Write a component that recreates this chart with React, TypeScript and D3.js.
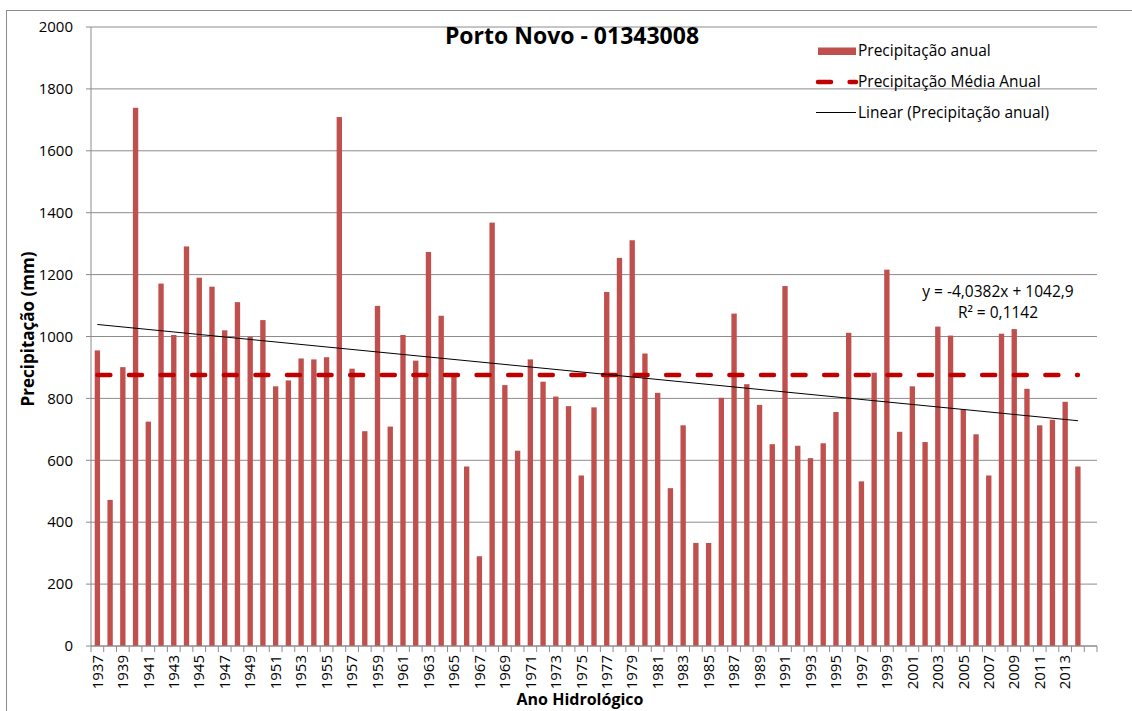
import React from "react";
import * as d3 from "d3";

// Ano hidrológico (the last slot stays empty, as in the original axis)
const years = [
  "1937", "1938", "1939", "1940", "1941", "1942", "1943", "1944", "1945", "1946",
  "1947", "1948", "1949", "1950", "1951", "1952", "1953", "1954", "1955", "1956",
  "1957", "1958", "1959", "1960", "1961", "1962", "1963", "1964", "1965", "1966",
  "1967", "1968", "1969", "1970", "1971", "1972", "1973", "1974", "1975", "1976",
  "1977", "1978", "1979", "1980", "1981", "1982", "1983", "1984", "1985", "1986",
  "1987", "1988", "1989", "1990", "1991", "1992", "1993", "1994", "1995", "1996",
  "1997", "1998", "1999", "2000", "2001", "2002", "2003", "2004", "2005", "2006",
  "2007", "2008", "2009", "2010", "2011", "2012", "2013", "2014", "2015",
];

// Precipitação anual (mm), 1937..2014
const precipitation = [
  955, 472, 901, 1739, 725, 1171, 1005, 1291, 1190, 1161,
  1020, 1111, 999, 1053, 839, 858, 929, 926, 933, 1709,
  896, 694, 1099, 709, 1005, 922, 1273, 1067, 872, 580,
  290, 1368, 843, 631, 926, 854, 806, 775, 551, 771,
  1144, 1254, 1311, 945, 818, 510, 713, 333, 333, 802,
  1074, 846, 779, 652, 1163, 647, 607, 655, 756, 1012,
  532, 883, 1216, 692, 839, 659, 1032, 1003, 765, 684,
  551, 1009, 1024, 831, 713, 731, 789, 580,
];

const meanPrecipitation = 876;
const trendSlope = -4.0382;
const trendIntercept = 1042.9;

const xTickLabels = [
  "1937", "1939", "1941", "1943", "1945", "1947", "1949", "1951", "1953", "1955",
  "1957", "1959", "1961", "1963", "1965", "1967", "1969", "1971", "1973", "1975",
  "1977", "1979", "1981", "1983", "1985", "1987", "1989", "1991", "1993", "1995",
  "1997", "1999", "2001", "2003", "2005", "2007", "2009", "2011", "2013",
];
const yTicks = [0, 200, 400, 600, 800, 1000, 1200, 1400, 1600, 1800, 2000];

const W = 1132;
const H = 711;
const left = 91;
const right = 1097;
const top = 27;
const bottom = 646;

const FONT = "'Open Sans', sans-serif";
const GRID = "#8c8c8c";

export default function App() {
  const x = d3.scaleBand<string>().domain(years).range([left, right]).padding(0);
  const y = d3.scaleLinear().domain([0, 2000]).range([bottom, top]);
  const bw = x.bandwidth();
  const barW = bw * 0.42;
  const cx = (yr: string) => (x(yr) as number) + bw / 2;

  const dataYears = years.slice(0, precipitation.length);
  const firstX = cx(dataYears[0]);
  const lastX = cx(dataYears[dataYears.length - 1]);
  const trendY = (i: number) => y(trendIntercept + trendSlope * i);

  return (
    <svg
      width={W}
      height={H}
      style={{ position: "absolute", left: 0, top: 0, background: "#fff" }}
      fontFamily={FONT}
    >
      {/* chart frame */}
      <rect x={6.5} y={10.5} width={W} height={H} fill="none" stroke={GRID} />

      {/* gridlines */}
      {yTicks.map((t) => (
        <line key={t} x1={left - 5} x2={right} y1={y(t)} y2={y(t)} stroke={GRID} strokeWidth={1} />
      ))}
      <line x1={left} x2={left} y1={top} y2={bottom} stroke={GRID} />

      {/* y tick labels */}
      {yTicks.map((t) => (
        <text key={t} x={73} y={y(t)} dy="0.35em" textAnchor="end" fontSize={15} fill="#000">
          {t}
        </text>
      ))}

      {/* bars */}
      {precipitation.map((v, i) => (
        <rect
          key={i}
          x={cx(dataYears[i]) - barW / 2}
          y={y(v)}
          width={barW}
          height={bottom - y(v)}
          fill="#C0504D"
        />
      ))}

      {/* x axis */}
      <line x1={left} x2={right} y1={bottom} y2={bottom} stroke={GRID} />
      {years.map((yr) => (
        <line key={yr} x1={x(yr)} x2={x(yr)} y1={bottom} y2={bottom + 6} stroke={GRID} />
      ))}
      <line x1={right} x2={right} y1={bottom} y2={bottom + 6} stroke={GRID} />
      {xTickLabels.map((lb) => (
        <text
          key={lb}
          transform={`translate(${cx(lb)},${bottom + 9}) rotate(-90)`}
          dy="0.35em"
          textAnchor="end"
          fontSize={15}
          fill="#000"
        >
          {lb}
        </text>
      ))}

      {/* mean line */}
      <line
        x1={firstX}
        x2={lastX}
        y1={y(meanPrecipitation)}
        y2={y(meanPrecipitation)}
        stroke="#C00000"
        strokeWidth={4.5}
        strokeDasharray="13,18.6"
        strokeLinecap="round"
      />

      {/* linear trend */}
      <line x1={firstX} x2={lastX} y1={trendY(1)} y2={trendY(precipitation.length)} stroke="#000" strokeWidth={1} />

      {/* trend equation */}
      <text x={998} y={292} dy="0.35em" textAnchor="middle" fontSize={15.5} fill="#000">
        y = -4,0382x + 1042,9
      </text>
      <text x={998} y={313} dy="0.35em" textAnchor="middle" fontSize={15.5} fill="#000">
        R² = 0,1142
      </text>

      {/* title */}
      <text x={572} y={44} textAnchor="middle" fontSize={23} fontWeight="bold" fill="#000">
        Porto Novo - 01343008
      </text>

      {/* axis titles */}
      <text
        transform="translate(28,329) rotate(-90)"
        dy="0.35em"
        textAnchor="middle"
        fontSize={17}
        fontWeight="bold"
        fill="#000"
      >
        Precipitação (mm)
      </text>
      <text x={580} y={705} textAnchor="middle" fontSize={16} fontWeight="bold" fill="#000">
        Ano Hidrológico
      </text>

      {/* legend */}
      <rect x={818} y={47.5} width={38} height={7.5} fill="#C0504D" />
      <text x={858} y={51} dy="0.35em" fontSize={15.5} fill="#000">
        Precipitação anual
      </text>
      <line x1={818} x2={856} y1={82} y2={82} stroke="#C00000" strokeWidth={4.5} strokeDasharray="13,18.6" strokeLinecap="round" />
      <text x={858} y={82} dy="0.35em" fontSize={15.5} fill="#000">
        Precipitação Média Anual
      </text>
      <line x1={816} x2={856} y1={112.5} y2={112.5} stroke="#000" strokeWidth={1} />
      <text x={858} y={112.5} dy="0.35em" fontSize={15.5} fill="#000">
        Linear (Precipitação anual)
      </text>
    </svg>
  );
}
